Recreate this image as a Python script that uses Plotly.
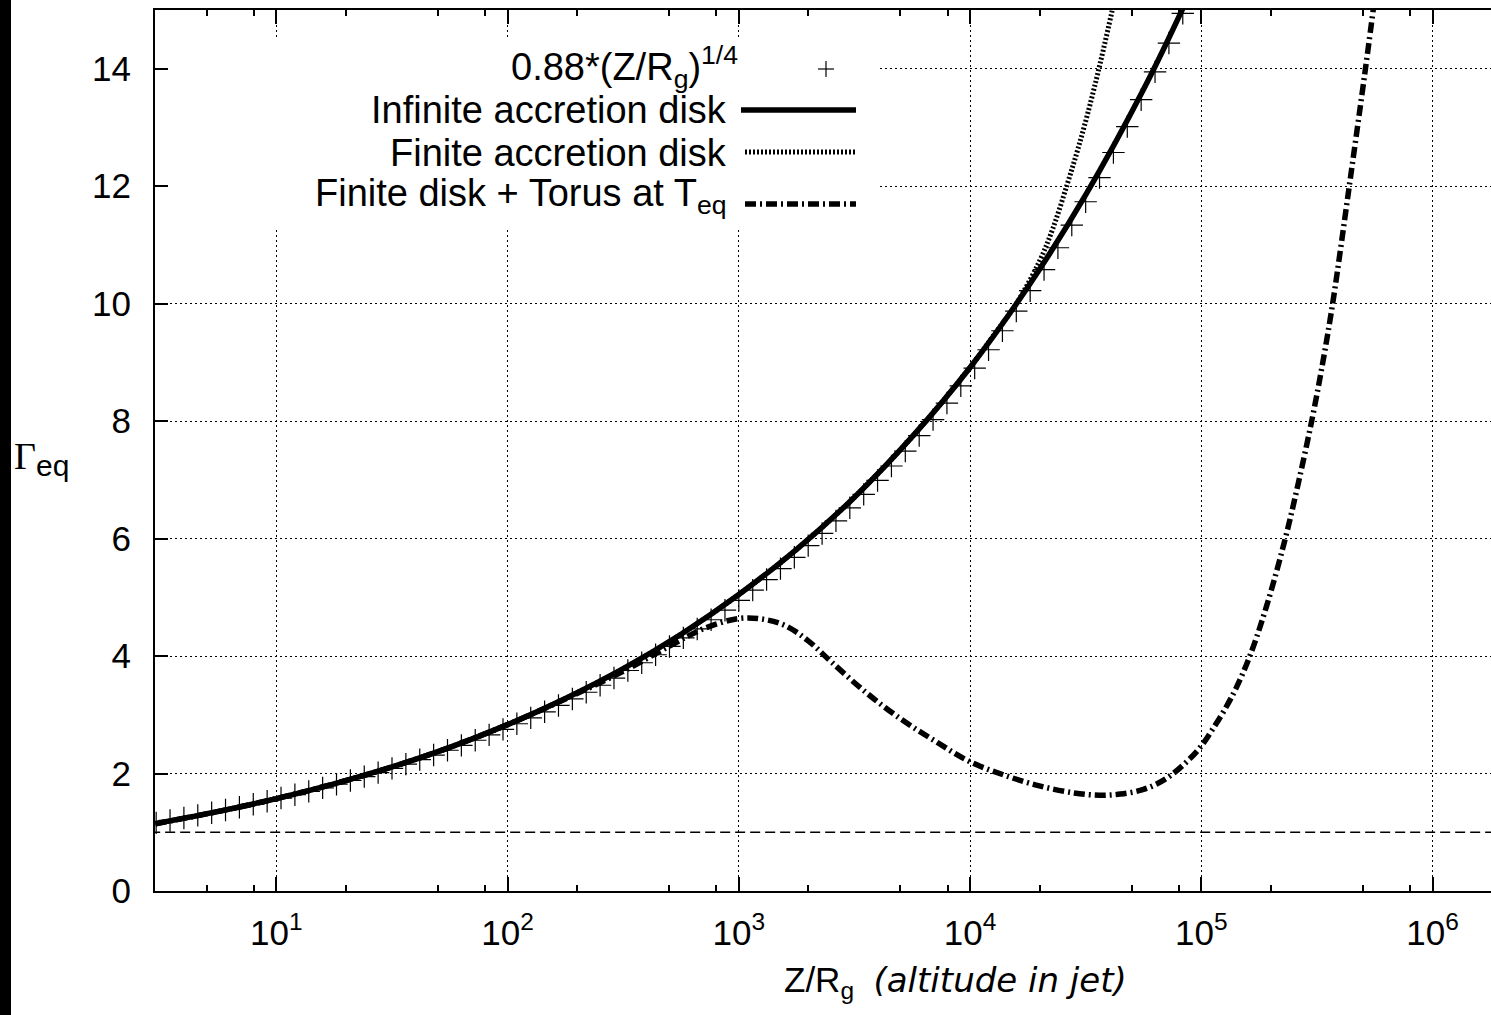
import plotly.graph_objects as go

# ---------------- data ----------------
# "+" samples of 0.88*(Z/Rg)^(1/4): log10(Z/Rg) and Gamma_eq
plus_logz = [0.48, 0.54, 0.60, 0.66, 0.72, 0.78, 0.84, 0.90, 0.96, 1.02,
             1.08, 1.14, 1.20, 1.26, 1.32, 1.38, 1.44, 1.50, 1.56, 1.62,
             1.68, 1.74, 1.80, 1.86, 1.92, 1.98, 2.04, 2.10, 2.16, 2.22,
             2.28, 2.34, 2.40, 2.46, 2.52, 2.58, 2.64, 2.70, 2.76, 2.82,
             2.88, 2.94, 3.00, 3.06, 3.12, 3.18, 3.24, 3.30, 3.36, 3.42,
             3.48, 3.54, 3.60, 3.66, 3.72, 3.78, 3.84, 3.90, 3.96, 4.02,
             4.08, 4.14, 4.20, 4.26, 4.32, 4.38, 4.44, 4.50, 4.56, 4.62,
             4.68, 4.74, 4.80, 4.86, 4.92, 4.98]
plus_gamma = [1.160, 1.201, 1.243, 1.287, 1.332, 1.379, 1.427, 1.477, 1.529, 1.583,
              1.639, 1.696, 1.756, 1.818, 1.881, 1.948, 2.016, 2.087, 2.160, 2.236,
              2.315, 2.396, 2.480, 2.567, 2.658, 2.751, 2.848, 2.948, 3.051, 3.159,
              3.270, 3.384, 3.503, 3.626, 3.754, 3.886, 4.022, 4.164, 4.310, 4.462,
              4.618, 4.781, 4.949, 5.122, 5.303, 5.489, 5.682, 5.881, 6.088, 6.302,
              6.524, 6.753, 6.990, 7.236, 7.490, 7.753, 8.026, 8.308, 8.600, 8.902,
              9.215, 9.539, 9.874, 10.221, 10.580, 10.952, 11.337, 11.735, 12.147, 12.574,
              13.016, 13.473, 13.947, 14.437, 14.944, 15.470]

# Infinite accretion disk
inf_logz = [0.477, 0.75, 1.0, 1.25, 1.5, 1.75, 2.0, 2.25, 2.5, 2.75, 3.0,
            3.25, 3.5, 3.75, 4.0, 4.25, 4.5, 4.75, 4.93, 5.0]
inf_gamma = [1.146, 1.355, 1.573, 1.825, 2.112, 2.446, 2.833, 3.278, 3.785, 4.371, 5.048,
             5.818, 6.705, 7.735, 8.914, 10.284, 11.852, 13.646, 15.11, 15.73]

# Finite accretion disk
fin_logz = [0.477, 0.75, 1.0, 1.25, 1.5, 1.75, 2.0, 2.25, 2.5, 2.75, 3.0,
            3.25, 3.5, 3.75, 4.0, 4.1, 4.2, 4.3, 4.36, 4.42, 4.467, 4.515,
            4.562, 4.614, 4.64]
fin_gamma = [1.146, 1.355, 1.573, 1.825, 2.112, 2.446, 2.833, 3.278, 3.785, 4.371, 5.048,
             5.818, 6.705, 7.735, 8.914, 9.45, 10.0, 10.72, 11.3, 12.03, 12.64, 13.33,
             14.08, 14.98, 15.45]

# Finite disk + Torus at T_eq
tor_logz = [0.477, 0.75, 1.0, 1.25, 1.5, 1.75, 2.0, 2.25, 2.5, 2.7, 2.85, 3.0,
            3.1, 3.2, 3.3, 3.4, 3.55, 3.7, 3.85, 4.0, 4.15, 4.3, 4.45, 4.56,
            4.65, 4.75, 4.85, 4.95, 5.0, 5.05, 5.1, 5.15, 5.21, 5.28, 5.36, 5.42,
            5.48, 5.53, 5.57, 5.64, 5.71, 5.76]
tor_gamma = [1.146, 1.355, 1.573, 1.825, 2.112, 2.446, 2.833, 3.27, 3.74, 4.17, 4.47, 4.64,
             4.63, 4.52, 4.26, 3.90, 3.38, 2.93, 2.55, 2.20, 1.97, 1.79, 1.67, 1.63,
             1.65, 1.73, 1.92, 2.25, 2.47, 2.76, 3.08, 3.45, 4.0, 4.82, 5.95, 6.95,
             8.05, 9.1, 10.05, 12.0, 14.0, 15.5]

# Gamma = 1 reference line
unit_z = [1.0, 1.0e7]
unit_gamma = [1.0, 1.0]

x_tickvals = [1e1, 1e2, 1e3, 1e4, 1e5, 1e6]
x_ticktext = ["10<sup>1</sup>", "10<sup>2</sup>", "10<sup>3</sup>",
              "10<sup>4</sup>", "10<sup>5</sup>", "10<sup>6</sup>"]
x_minorvals = [m * 10 ** e for e in range(0, 7) for m in (2, 5, 8)]
y_tickvals = [0, 2, 4, 6, 8, 10, 12, 14]

legend_labels = ["0.88*(Z/R<sub>g</sub>)<sup>1/4</sup>",
                 "Infinite accretion disk",
                 "Finite accretion disk",
                 "Finite disk + Torus at T<sub>eq</sub>"]

# ---------------- layout geometry ----------------
W, H = 1491, 1015
ML, MR, MT, MB = 155, 0, 10, 124
PW = W - ML - MR
PH = H - MT - MB


def px(x):
    return (x - ML) / PW


def py(y):
    return (H - MB - y) / PH


FONT = "Liberation Sans, Arial, sans-serif"
FS = 35
FS_LEG = 38

to_z = lambda arr: [10 ** v for v in arr]

fig = go.Figure()

fig.add_trace(go.Scatter(x=unit_z, y=unit_gamma, mode="lines",
                         line=dict(color="black", width=1.5, dash="10px,5px"),
                         showlegend=False, hoverinfo="skip"))
fig.add_trace(go.Scatter(x=to_z(plus_logz), y=plus_gamma, mode="markers",
                         marker=dict(symbol="cross-thin", size=16,
                                     line=dict(color="black", width=1.2)),
                         showlegend=False))
fig.add_trace(go.Scatter(x=to_z(inf_logz), y=inf_gamma, mode="lines",
                         line=dict(color="black", width=5.5, shape="spline"),
                         showlegend=False))
fig.add_trace(go.Scatter(x=to_z(fin_logz), y=fin_gamma, mode="lines",
                         line=dict(color="black", width=5, dash="2px,2px", shape="spline"),
                         showlegend=False))
fig.add_trace(go.Scatter(x=to_z(tor_logz), y=tor_gamma, mode="lines",
                         line=dict(color="black", width=5.5, dash="11px,4px,2px,4px",
                                   shape="spline"),
                         showlegend=False))

# ---------------- gnuplot-style opaque key ----------------
fig.add_shape(type="rect", xref="paper", yref="paper",
              x0=px(169), x1=px(878), y0=py(228), y1=py(40),
              fillcolor="white", line=dict(width=0), layer="above")

rows_y = [67, 110, 153, 196]
rows_right = [740, 729, 729, 729]
for lab, yy, xr in zip(legend_labels, rows_y, rows_right):
    fig.add_annotation(x=px(xr), y=py(yy), xref="paper", yref="paper",
                       text=lab, showarrow=False, xanchor="right", yanchor="middle",
                       font=dict(family=FONT, size=FS_LEG, color="black"))

# "+" sample
fig.add_shape(type="line", xref="paper", yref="paper",
              x0=px(818), x1=px(834), y0=py(69), y1=py(69),
              line=dict(color="black", width=1.2), layer="above")
fig.add_shape(type="line", xref="paper", yref="paper",
              x0=px(826), x1=px(826), y0=py(61), y1=py(77),
              line=dict(color="black", width=1.2), layer="above")
# solid sample
fig.add_shape(type="line", xref="paper", yref="paper",
              x0=px(741), x1=px(856), y0=py(110), y1=py(110),
              line=dict(color="black", width=5.5), layer="above")
# dotted sample
fig.add_shape(type="line", xref="paper", yref="paper",
              x0=px(745), x1=px(856), y0=py(152), y1=py(152),
              line=dict(color="black", width=5, dash="2px,2px"), layer="above")
# dash-dot sample
fig.add_shape(type="line", xref="paper", yref="paper",
              x0=px(745), x1=px(856), y0=py(204), y1=py(204),
              line=dict(color="black", width=5.5, dash="11px,4px,2px,4px"), layer="above")

# black strip at far left of the image
fig.add_shape(type="rect", xref="paper", yref="paper",
              x0=px(0), x1=px(11), y0=py(H), y1=py(0),
              fillcolor="black", line=dict(width=0), layer="above")

# axis titles
fig.add_annotation(x=px(782), y=py(1006), xref="paper", yref="paper",
                   xanchor="left", yanchor="bottom", showarrow=False,
                   text=("Z/R<sub>g</sub>  <span style=\"font-family:'DejaVu Sans';"
                         "font-style:italic;font-size:34px\">(altitude in jet)</span>"),
                   font=dict(family=FONT, size=FS, color="black"))
fig.add_annotation(x=px(12), y=py(458), xref="paper", yref="paper",
                   xanchor="left", yanchor="middle", showarrow=False,
                   text=("<span style=\"font-family:'Liberation Serif';font-size:38px\">Γ</span>"
                         "<sub><span style=\"font-size:30px\">eq</span></sub>"),
                   font=dict(family=FONT, size=FS, color="black"))

fig.update_layout(
    width=W, height=H,
    margin=dict(l=ML, r=MR, t=MT, b=MB),
    paper_bgcolor="white", plot_bgcolor="white",
    font=dict(family=FONT, size=FS, color="black"),
    showlegend=False,
)

fig.update_xaxes(
    type="log", range=[0.475, 6.253],
    tickmode="array", tickvals=x_tickvals, ticktext=x_ticktext,
    ticks="inside", ticklen=14, tickwidth=1.5, tickcolor="black",
    showline=True, linewidth=2, linecolor="black", mirror="ticks",
    showgrid=True, gridcolor="black", gridwidth=1, griddash="2px,3px",
    zeroline=False, ticklabelstandoff=10,
    minor=dict(tickmode="array", tickvals=x_minorvals, ticks="inside",
               ticklen=6, tickwidth=1.5, tickcolor="black", showgrid=False),
    tickfont=dict(family=FONT, size=FS, color="black"),
)
fig.update_yaxes(
    range=[0, 15], tickmode="array", tickvals=y_tickvals,
    ticks="inside", ticklen=13, tickwidth=1.5, tickcolor="black",
    showline=True, linewidth=2, linecolor="black",
    showgrid=True, gridcolor="black", gridwidth=1, griddash="2px,3px",
    zeroline=False, ticklabelstandoff=15,
    tickfont=dict(family=FONT, size=FS, color="black"),
)

fig.write_html("out.html",
               config={"displayModeBar": False},
               post_script="document.body.style.margin='0';"
                           "document.body.style.overflow='hidden';")
